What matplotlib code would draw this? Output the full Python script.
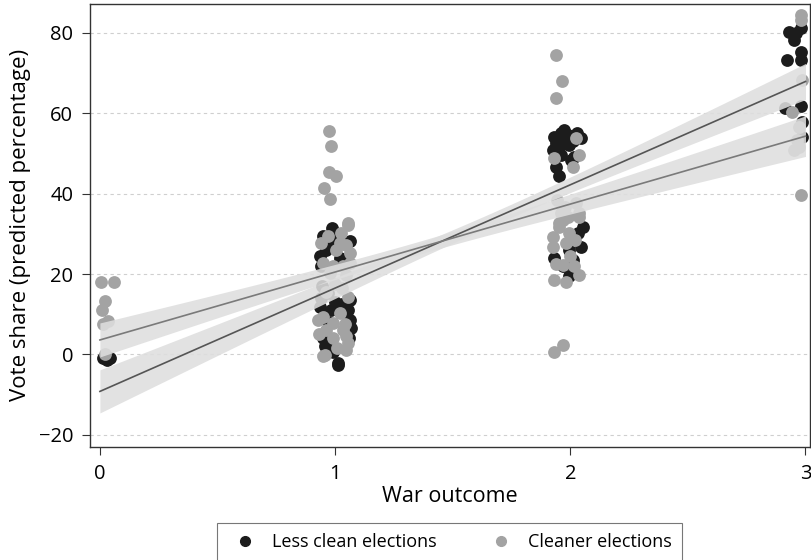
import numpy as np
import matplotlib
matplotlib.use("Agg")
import matplotlib.pyplot as plt
from matplotlib.lines import Line2D

plt.rcParams["font.family"] = ["Open Sans", "DejaVu Sans"]

# Less clean elections: (war outcome + jitter, vote share)
less_x = [0.013, 0.042, 0.030,
          0.988, 1.012, 0.977, 0.934, 1.062, 1.019, 0.969, 0.934, 0.984, 1.054,
          1.062, 1.069, 0.948, 0.984, 0.955, 1.012, 0.960, 1.000, 0.945,
          0.950, 0.960, 0.940, 1.000, 1.065, 1.060, 0.940, 0.970, 1.030, 0.990,
          1.932, 1.975, 2.045, 1.953, 1.925, 1.996, 2.017, 1.939, 1.953, 2.002,
          2.052, 2.031, 1.996, 2.045, 1.932, 1.996, 1.960, 2.010,
          1.950, 1.960, 1.940, 2.030, 1.990, 2.010, 1.970,
          2.930, 2.958, 2.980, 2.951, 2.980, 2.923, 2.980, 2.915, 2.980, 2.987,
          2.987]
less_y = [-0.9, -0.9, -1.3,
          31.4, -2.6, 28.1, 24.4, 28.1, 24.0, 15.2, 11.9, 11.1, 11.1,
          8.6, 6.5, 4.1, 2.4, 2.0, -2.2, 26.0, 13.0, 17.0,
          29.5, 26.5, 22.0, 30.0, 13.5, 4.0, 14.0, 8.0, 12.5, 0.5,
          54.2, 55.9, 53.8, 51.7, 50.9, 52.1, 49.2, 46.7, 44.3, 48.4,
          31.8, 30.2, 26.0, 26.8, 24.0, 19.4, 55.0, 53.0,
          53.0, 49.5, 52.5, 55.0, 54.5, 23.5, 22.0,
          80.3, 79.9, 81.2, 78.3, 75.3, 73.3, 73.3, 61.3, 61.7, 57.9,
          54.2]

# Cleaner elections
clean_x = [0.003, 0.062, 0.020, 0.007, 0.013, 0.034, 0.020,
           0.974, 0.984, 0.974, 1.005, 0.954, 0.978, 1.054, 0.948,
           1.054, 1.026, 0.941, 1.047, 1.062, 1.005, 0.948, 0.990, 1.033,
           1.062, 0.977, 1.047, 1.054, 0.948, 1.019, 0.927, 0.990, 0.962,
           1.033, 1.047, 0.990, 1.054, 0.955, 1.047,
           1.000, 0.960, 1.030, 0.930, 1.010, 1.040, 0.970, 1.020,
           1.939, 1.965, 1.939, 2.024, 1.932, 2.038, 2.010, 1.944, 1.979,
           2.024, 2.038, 1.960, 1.989, 2.038, 1.953, 1.925, 1.996, 1.925,
           1.981, 1.967, 2.017, 2.038, 1.932, 1.981, 1.932, 1.967,
           1.950, 2.000, 1.940, 2.020, 1.970,
           2.980, 2.980, 2.987, 2.944, 2.972, 2.965, 2.972, 2.951, 2.980]
clean_y = [18.1, 18.1, 13.2, 11.1, 7.6, 8.2, 0.0,
           55.7, 51.9, 45.5, 44.3, 41.4, 38.7, 32.2, -0.3,
           32.7, 30.2, 27.7, 27.3, 25.2, 26.0, 22.7, 21.9, 21.9,
           22.7, 20.2, 19.8, 14.4, 9.4, 10.3, 8.6, 7.8, 6.1,
           6.1, 4.5, 4.1, 2.8, -0.1, 1.1,
           17.5, 15.5, 16.5, 5.0, 1.5, 7.5, 29.5, 27.8,
           74.5, 67.9, 63.8, 53.8, 48.8, 49.7, 46.7, 38.5, 36.8,
           37.6, 35.1, 35.1, 34.3, 34.3, 31.8, 29.3, 30.2, 26.8,
           27.7, 22.3, 21.9, 19.8, 18.6, 18.1, 0.7, 2.4,
           32.8, 24.5, 22.5, 28.5, 33.5,
           84.5, 83.2, 68.3, 60.4, 56.7, 53.4, 51.7, 50.9, 39.7]

# Fitted lines (intercept, slope) and CI shape (half-width at mean, slope term, mean x)
less_fit = (-9.2, 25.7)
clean_fit = (3.6, 16.9)
less_ci = (1.6, 3.1, 1.65)
clean_ci = (1.6, 2.9, 1.35)

fig = plt.figure(figsize=(8.11, 5.60), dpi=100)
ax = fig.add_axes([0.111, 0.202, 0.888, 0.791])

ax.scatter(less_x, less_y, s=85, color="#1c1c1c", linewidths=0, zorder=2)
ax.scatter(clean_x, clean_y, s=85, color="#a3a3a3", linewidths=0, zorder=2)

xx = np.linspace(0, 3, 200)
for (b0, b1), (s0, s1, xm), lc in [(less_fit, less_ci, "#555555"),
                                   (clean_fit, clean_ci, "#7a7a7a")]:
    yy = b0 + b1 * xx
    hw = np.sqrt(s0 ** 2 + (s1 * (xx - xm)) ** 2)
    ax.fill_between(xx, yy - hw, yy + hw, color="#dedede", alpha=0.88,
                    linewidth=0, zorder=3)
    ax.plot(xx, yy, color=lc, lw=1.2, zorder=4)

ax.set_xlim(-0.042, 3.02)
ax.set_ylim(-23, 87.2)
ax.set_xticks([0, 1, 2, 3])
ax.set_yticks([-20, 0, 20, 40, 60, 80])
ax.yaxis.grid(True, color="#cfcfcf", linestyle=(0, (3, 3)), linewidth=0.8)
ax.set_axisbelow(True)
ax.tick_params(labelsize=14.5, color="#333333", length=6, width=0.8, pad=6)
for sp in ax.spines.values():
    sp.set_color("#333333")
    sp.set_linewidth(1.0)

ax.set_xlabel("War outcome", fontsize=15.5, labelpad=2)
ax.set_ylabel("Vote share (predicted percentage)", fontsize=16, labelpad=6)

handles = [Line2D([], [], marker="o", ls="", color="#1c1c1c", markersize=7),
           Line2D([], [], marker="o", ls="", color="#a3a3a3", markersize=7)]
leg = fig.legend(handles, ["Less clean elections", "Cleaner elections"],
                 loc="upper center", bbox_to_anchor=(0.554, 0.066), ncol=2,
                 fontsize=13, frameon=True, fancybox=False, borderaxespad=0,
                 columnspacing=2.6, handletextpad=0.5, borderpad=0.55)
leg.get_frame().set_edgecolor("#555555")
leg.get_frame().set_linewidth(0.8)

fig.savefig("out.png", dpi=100)
